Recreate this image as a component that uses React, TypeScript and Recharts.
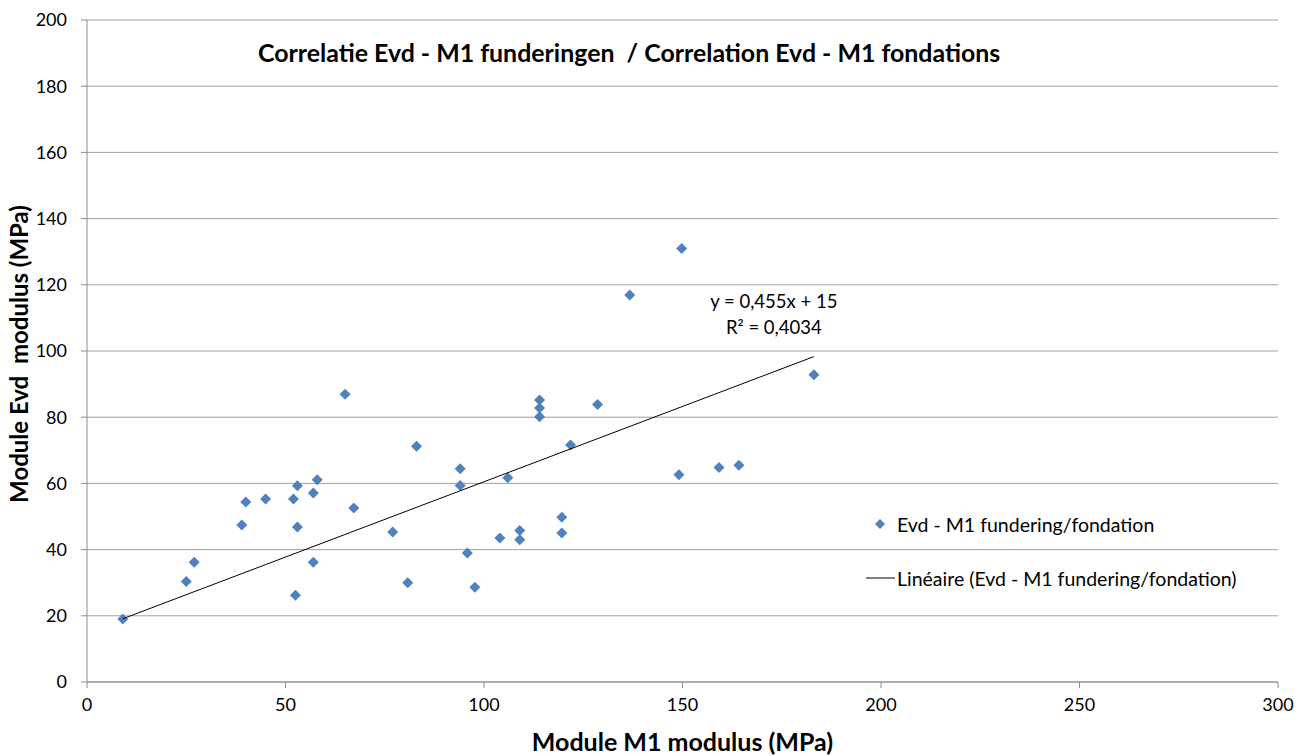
import { ScatterChart, Scatter, XAxis, YAxis, CartesianGrid, ReferenceDot } from "recharts";

document.body.style.margin = "0";

const FONT = "Lato, 'Open Sans', sans-serif";
const BLUE = "#4F81BD";

// M1 modulus (x) and Evd modulus (y), MPa
const m1Values = [
  9, 25, 27, 39, 40, 45, 52, 53, 53, 52.5, 57, 57, 58, 65, 67.2, 77, 80.8, 83, 94, 94,
  95.8, 97.7, 106, 104, 109, 109, 114, 114, 114, 119.6, 119.6, 121.8, 128.6, 136.7, 149.8,
  149.1, 159.2, 164.2, 183.1,
];
const evdValues = [
  19, 30.4, 36.2, 47.4, 54.4, 55.3, 55.3, 59.3, 46.8, 26.2, 36.2, 57.1, 61.1, 86.9, 52.6,
  45.3, 30, 71.2, 64.4, 59.4, 39, 28.6, 61.7, 43.5, 45.8, 43, 85.2, 82.8, 80.1, 49.8, 45,
  71.6, 83.8, 116.9, 131, 62.6, 64.8, 65.5, 92.8,
];

const xTicks = [0, 50, 100, 150, 200, 250, 300];
const yTicks = [0, 20, 40, 60, 80, 100, 120, 140, 160, 180, 200];

// trendline as printed on the chart
const trendSlope = 0.455;
const trendIntercept = 15;
const trendLabel = ["y = 0,455x + 15", "R² = 0,4034"];
const legendLabels = ["Evd - M1 fundering/fondation", "Linéaire (Evd - M1 fundering/fondation)"];

const points = m1Values.map((x, i) => ({ x, y: evdValues[i] }));
const xMin = Math.min(...m1Values);
const xMax = Math.max(...m1Values);
const trendData = [xMin, xMax].map(x => ({ x, y: trendSlope * x + trendIntercept }));

function Diamond({ cx = 0, cy = 0 }: { cx?: number; cy?: number }) {
  const r = 5.5;
  return (
    <polygon
      points={`${cx},${cy - r} ${cx + r},${cy} ${cx},${cy + r} ${cx - r},${cy}`}
      fill={BLUE}
    />
  );
}

function NoDot() {
  return <g />;
}

function LegendBox() {
  const row = { display: "flex", alignItems: "center", height: 26, fontSize: 19.5, color: "#000" } as const;
  return (
    <div style={{ position: "absolute", left: 864, top: 511, fontFamily: FONT }}>
      <div style={{ ...row, marginBottom: 28 }}>
        <svg width={33} height={12}>
          <polygon points="16,1 21,6 16,11 11,6" fill={BLUE} />
        </svg>
        <span>{legendLabels[0]}</span>
      </div>
      <div style={row}>
        <svg width={33} height={12}>
          <line x1={2} y1={6} x2={31} y2={6} stroke="#000" strokeWidth={1} />
        </svg>
        <span>{legendLabels[1]}</span>
      </div>
    </div>
  );
}

function EquationLabel({ viewBox }: { viewBox?: { x: number; y: number } }) {
  if (!viewBox) return null;
  const { x, y } = viewBox;
  return (
    <text x={x} y={y} textAnchor="middle" fontFamily={FONT} fontSize={18.5} fill="#000">
      <tspan x={x} dy={0}>{trendLabel[0]}</tspan>
      <tspan x={x} dy={26}>{trendLabel[1]}</tspan>
    </text>
  );
}

export default function App() {
  return (
    <div style={{ position: "relative", width: 1302, height: 756, background: "#fff", fontFamily: FONT }}>
      <ScatterChart width={1302} height={756} margin={{ top: 20, right: 24, bottom: 34, left: 27 }}>
        <CartesianGrid vertical={false} stroke="#A0A0A0" />
        <XAxis
          type="number"
          dataKey="x"
          domain={[0, 300]}
          ticks={xTicks}
          height={40}
          stroke="#8C8C8C"
          tickSize={6}
          tickMargin={10}
          tick={{ fill: "#000", fontSize: 18, fontFamily: FONT }}
        />
        <YAxis
          type="number"
          dataKey="y"
          domain={[0, 200]}
          ticks={yTicks}
          width={60}
          stroke="#8C8C8C"
          tickSize={6}
          tickMargin={14}
          tick={{ fill: "#000", fontSize: 18, fontFamily: FONT }}
        />
        <Scatter data={points} shape={(p: any) => <Diamond {...p} />} isAnimationActive={false} />
        <Scatter
          data={trendData}
          line={{ stroke: "#000", strokeWidth: 1 }}
          shape={NoDot}
          isAnimationActive={false}
        />
        <ReferenceDot x={173} y={113} r={0} stroke="none" label={(p: any) => <EquationLabel {...p} />} />
      </ScatterChart>

      <LegendBox />

      <div
        style={{
          position: "absolute",
          left: 258,
          top: 37,
          fontSize: 24.9,
          fontWeight: 700,
          color: "#000",
          whiteSpace: "pre",
        }}
      >
        Correlatie Evd - M1 funderingen  / Correlation Evd - M1 fondations
      </div>
      <div
        style={{
          position: "absolute",
          left: 0,
          width: 1302,
          paddingLeft: 87,
          paddingRight: 24,
          boxSizing: "border-box",
          top: 726,
          textAlign: "center",
          fontSize: 25,
          fontWeight: 700,
          color: "#000",
        }}
      >
        Module M1 modulus (MPa)
      </div>
      <div
        style={{
          position: "absolute",
          left: 18,
          top: 354,
          transform: "translate(-50%, -50%) rotate(-90deg)",
          fontSize: 24,
          fontWeight: 700,
          color: "#000",
          whiteSpace: "pre",
        }}
      >
        Module Evd  modulus (MPa)
      </div>
    </div>
  );
}
